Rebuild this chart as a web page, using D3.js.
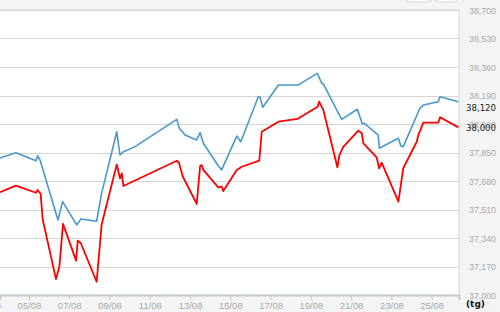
<!DOCTYPE html>
<html><head><meta charset="utf-8">
<script src="https://cdn.jsdelivr.net/npm/d3@7"></script>
<style>
html,body{margin:0;padding:0;background:#f4f4f4;}
svg{display:block;font-family:"DejaVu Sans",Verdana,sans-serif;}
</style></head>
<body><svg id="c" width="500" height="312"></svg>
<script>
// Day of August (fractional = intraday)
const blueDays = [3.56,4.35,5.35,5.43,5.55,6.44,6.67,7.37,7.58,8.36,8.61,9.36,9.52,9.69,10.27,12.34,12.47,12.59,12.75,13.33,13.50,13.66,14.40,14.57,15.32,15.52,16.39,16.48,16.61,17.39,18.38,19.32,19.54,19.62,20.53,21.31,21.56,21.66,22.35,22.40,23.35,23.47,23.59,24.42,24.59,25.33,25.42,26.33];
const blueValues = [37817,37849,37801,37831,37805,37447,37557,37418,37453,37440,37608,37974,37835,37855,37885,38048,37994,37978,37954,37925,37968,37905,37771,37746,37948,37914,38183,38179,38120,38253,38253,38322,38263,38259,38048,38108,38020,38024,37954,37875,37935,37889,37885,38114,38133,38153,38183,38153];
const redDays = [3.56,4.35,5.35,5.43,5.58,5.68,6.34,6.51,6.69,7.34,7.42,7.57,8.36,8.61,9.36,9.52,9.61,9.69,12.34,12.45,12.64,13.33,13.50,13.58,13.66,14.40,14.57,14.65,15.32,15.57,16.44,16.56,17.39,18.33,19.34,19.41,19.62,20.32,20.42,20.61,21.36,21.53,21.61,22.27,22.39,22.52,23.35,23.59,24.26,24.34,24.59,25.33,25.42,26.33];
const redValues = [37613,37652,37610,37626,37602,37452,37095,37169,37424,37205,37324,37310,37079,37421,37778,37696,37725,37650,37801,37789,37707,37543,37769,37775,37746,37642,37647,37620,37746,37765,37801,37974,38034,38050,38123,38153,38104,37762,37835,37883,37980,37965,37905,37821,37756,37789,37557,37756,37914,37954,38028,38028,38060,38000];
const yTicks = [37000,37170,37340,37510,37680,37850,38020,38190,38360,38530,38700];
const xTickDays = [3,5,7,9,11,13,15,17,19,21,23,25];
const xTickLabels = ["03/08","05/08","07/08","09/08","11/08","13/08","15/08","17/08","19/08","21/08","23/08","25/08"];
const lastLabels = ["38,120","38,000"];
const lastLabelValues = [38120,38000];
const unitLabel = "(tg)";

const svg = d3.select("#c");
const L=0, R=459, T=10, B=295;
const x = d3.scaleLinear().domain([3.56,26.36]).range([L,R]);
const y = d3.scaleLinear().domain([37000,38700]).range([B,T]);

// top buttons (mostly off-screen)
svg.append("rect").attr("x",405).attr("y",-20).attr("width",27).attr("height",22).attr("rx",4)
  .attr("fill","#f7f7f7").attr("stroke","#dcdcdc");
svg.append("rect").attr("x",434).attr("y",-20).attr("width",24).attr("height",22).attr("rx",4)
  .attr("fill","#f7f7f7").attr("stroke","#dcdcdc");

// plot background
svg.append("rect").attr("x",L-1).attr("y",T).attr("width",R-L+1).attr("height",B-T).attr("fill","#fff")
  .attr("stroke","#d4d4d4");

// grid
svg.append("g").selectAll("line").data(yTicks).join("line")
  .attr("x1",L).attr("x2",R).attr("y1",d=>Math.round(y(d))+0.5).attr("y2",d=>Math.round(y(d))+0.5)
  .attr("stroke","#d6d6d6").attr("stroke-width",1.2);

// y labels (right)
const yAxis = d3.axisRight(y).tickValues(yTicks).tickSize(0).tickPadding(10).tickFormat(d3.format(","));
const ya = svg.append("g").attr("transform",`translate(${R},0)`).call(yAxis);
ya.select(".domain").remove();
ya.selectAll("text").attr("fill","#a8a8a8").attr("font-size",9.5)
  .attr("textLength",27).attr("lengthAdjust","spacingAndGlyphs");

// x axis
const xAxis = d3.axisBottom(x).tickValues(xTickDays).tickSize(5).tickPadding(2)
  .tickFormat((d,i)=>xTickLabels[i]);
const xa = svg.append("g").attr("transform",`translate(0,${B})`).call(xAxis);
xa.select(".domain").attr("stroke","#c4cad0").attr("stroke-width",2);
xa.selectAll(".tick line").attr("stroke","#c8c8c8");
xa.selectAll("text").attr("fill","#a8a8a8").attr("font-size",9.5);

// clip
svg.append("clipPath").attr("id","clip").append("rect").attr("x",L).attr("y",T).attr("width",R-L).attr("height",B-T);

const line = d3.line().x(d=>x(d[0])).y(d=>y(d[1]));
svg.append("path").attr("clip-path","url(#clip)")
  .datum(blueDays.map((d,i)=>[d,blueValues[i]]))
  .attr("d",line).attr("fill","none").attr("stroke","#4a98ca").attr("stroke-width",1.6).attr("stroke-linejoin","round");
svg.append("path").attr("clip-path","url(#clip)")
  .datum(redDays.map((d,i)=>[d,redValues[i]]))
  .attr("d",line).attr("fill","none").attr("stroke","#ff0000").attr("stroke-width",1.8).attr("stroke-linejoin","round");

// last-value labels
svg.append("g").selectAll("text").data(lastLabels).join("text")
  .attr("x",466).attr("y",(d,i)=>y(lastLabelValues[i])).attr("dy","0.35em")
  .attr("font-size",9.5).attr("fill","#222")
  .attr("textLength",30).attr("lengthAdjust","spacingAndGlyphs").text(d=>d);

// unit label
svg.append("text").attr("x",466).attr("y",307).attr("font-size",9).attr("font-weight","bold").attr("fill","#111").text(unitLabel);
</script></body></html>
